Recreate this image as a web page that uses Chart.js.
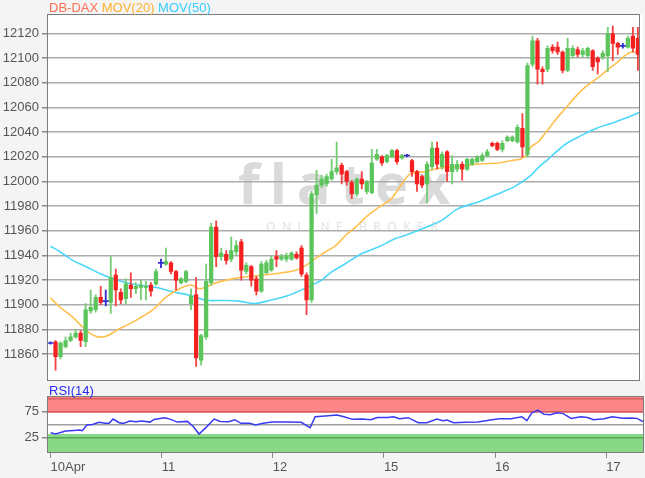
<!DOCTYPE html>
<html><head><meta charset="utf-8">
<script src="https://cdn.jsdelivr.net/npm/chart.js@4.4.1/dist/chart.umd.min.js"></script>
<style>
body{margin:0;background:#f4f4f4;}
#wrap{position:relative;width:645px;height:478px;overflow:hidden;font-family:"Liberation Sans",Arial,sans-serif;}
#plotbg{position:absolute;left:48px;top:15px;width:595px;height:365px;background:#fff;}
#wm1{position:absolute;left:238px;top:154px;font-family:"Open Sans",sans-serif;font-weight:700;font-size:56px;line-height:56px;letter-spacing:10px;color:#dadada;white-space:nowrap;}
#wm2{position:absolute;left:266px;top:221px;font-family:"Open Sans",sans-serif;font-size:12px;line-height:12px;letter-spacing:6.6px;color:#e2e2e2;white-space:nowrap;}
canvas{position:absolute;left:0;}
#main{top:0;}
#rsi{top:383px;}
#legend{position:absolute;left:49px;top:1px;font-size:13px;line-height:14px;white-space:nowrap;}
#rsilabel{position:absolute;left:49px;top:384px;font-size:13px;line-height:14px;color:#2a2aee;}
</style></head><body>
<div id="wrap">
  <div id="plotbg"></div>
  <div id="wm1">flatex</div>
  <div id="wm2">ONLINE BROKER</div>
  <canvas id="main" width="645" height="392"></canvas>
  <canvas id="rsi" width="645" height="95"></canvas>
  <div id="legend"><span style="color:#ff7152">DB-DAX</span> <span style="color:#ffb02e">MOV(20)</span> <span style="color:#36cdfc">MOV(50)</span></div>
  <div id="rsilabel">RSI(14)</div>
</div>
<script>
// ---- data ----
const dayLabels = ["10Apr", "11", "12", "15", "16", "17"];
const dayStarts = [0, 22, 44, 66, 88, 110];
const priceTicks = [11860, 11880, 11900, 11920, 11940, 11960, 11980, 12000, 12020, 12040, 12060, 12080, 12100, 12120];
const rsiTicks = [0, 25, 50, 75, 100];
const rsiTickLabels = [25, 75];

const openP = [11869,11870,11858,11866,11871,11874,11877,11870,11895,11896,11906,11903,11902,11924,11910,11905,11916,11913,11914,11914,11916,11917,
11934,11933,11934,11927,11918,11919,11901,11908,11855,11874,11918,11963,11939,11941,11937,11943,11951,11927,11931,11921,11911,11926,
11928,11939,11937,11937,11937,11941,11946,11924,11904,11989,11997,11998,12002,12008,12013,12008,11999,11990,12002,11992,11991,12018,
12020,12016,12020,12025,12019,12021,12017,12008,12004,11998,12012,12027,12012,12024,12008,12010,12014,12010,12014,12016,12017,12021,
12031,12031,12026,12033,12033,12032,12043,12022,12095,12114,12091,12091,12109,12109,12105,12090,12102,12107,12103,12102,12106,12100,
12101,12102,12120,12112,12110,12109,12118,12116];
const closeP = [11869,11858,11869,11871,11874,11877,11871,11896,11898,11906,11902,11903,11922,11912,11904,11917,11913,11915,11916,11915,11911,11927,
11934,11935,11927,11920,11921,11927,11907,11857,11875,11919,11963,11939,11942,11936,11944,11948,11928,11932,11920,11911,11933,11934,
11937,11937,11939,11940,11942,11938,11925,11904,11990,11997,12002,12004,12008,12011,12006,12000,11990,12002,11998,12000,12015,12022,
12015,12021,12025,12016,12021,12021,12008,11998,11997,12014,12027,12014,12022,12008,12014,12014,12010,12018,12018,12020,12021,12024,
12029,12026,12031,12036,12036,12044,12028,12094,12114,12091,12089,12108,12106,12105,12090,12108,12108,12103,12106,12108,12093,12097,
12104,12120,12112,12109,12110,12116,12108,12103];
const highP = [11870,11871,11870,11874,11877,11880,11879,11901,11912,11908,11915,11912,11939,11929,11913,11921,11926,11918,11920,11919,11918,11929,
11937,11946,11935,11928,11922,11928,11913,11922,11876,11933,11966,11968,11946,11944,11955,11952,11953,11934,11932,11923,11935,11936,
11940,11944,11941,11942,11943,11943,11948,11926,11992,12009,12005,12006,12018,12032,12015,12009,12001,12003,12008,12001,12026,12026,
12021,12022,12026,12026,12022,12022,12018,12009,12005,12016,12032,12032,12024,12025,12021,12017,12016,12019,12019,12021,12023,12026,
12032,12032,12033,12037,12037,12046,12055,12096,12118,12116,12093,12110,12111,12113,12106,12116,12110,12109,12108,12109,12107,12101,
12106,12125,12126,12113,12112,12118,12125,12125];
const lowP = [11868,11847,11856,11865,11870,11873,11866,11866,11893,11894,11900,11899,11893,11899,11901,11901,11906,11909,11904,11904,11907,11916,
11930,11932,11925,11912,11917,11918,11896,11850,11851,11872,11916,11931,11936,11933,11935,11940,11920,11925,11915,11908,11910,11925,
11927,11931,11936,11935,11936,11937,11923,11892,11902,11974,11995,11996,12001,12006,11998,11997,11986,11988,11994,11990,11990,12017,
12013,12015,12019,12014,12018,12020,12004,11992,11995,11983,12010,12010,12010,12000,11998,12008,12001,12009,12013,12015,12016,12020,
12028,12025,12024,12032,12032,12031,12020,12020,12093,12079,12079,12089,12104,12103,12088,12089,12100,12101,12101,12100,12090,12087,
12099,12089,12098,12103,12108,12108,12105,12090];

const ma20X = [0,1.9,4.4,6.4,7.8,9.4,11.2,13.2,15.2,17.7,20.3,23.1,25.7,28,29.6,31,33,35,37.6,42.1,45.5,48.9,50.9,52.9,54.8,56.8,58.8,60.8,62.8,65.4,67.9,69.3,71.6,74.7,77.3,79.8,82.6,85.8,89.2,91.8,93.5,94.7,95.7,97.1,98.5,100.5,102.5,104.5,106.5,109,111,113,114.4,115.6,117,117.3];
const ma20Y = [11905.6,11898,11890,11882,11877,11874,11874.6,11879.4,11883.5,11889,11895.6,11906.4,11913,11916,11913,11914.5,11917.8,11920,11922,11924,11925.6,11928,11932,11937.8,11943,11948,11956.4,11963,11971,11979,11986,11994,12006,12008,12010.7,12011.7,12013,12014.4,12015,12017,12018,12021,12028,12032,12039,12049.5,12059,12068.4,12076.5,12084,12090.7,12097,12102,12104.8,12104,12101];
const ma50X = [0,1.9,4.4,7.2,9.8,12.4,15.2,17.7,21.1,24.3,27.7,31,34.2,37.6,40.6,43.8,47.5,50.8,54,56,58.8,62,65.4,68.7,71.1,75.3,77.9,81.2,85.2,89.2,92.5,95.7,97.1,99.1,102.5,105.6,109,112.4,115.6,117.3];
const ma50Y = [11947.5,11943,11936,11930.7,11925.4,11921.3,11917.8,11916,11914,11910.5,11907.8,11903.7,11903.5,11903,11901,11903.7,11907.8,11913.5,11920,11926.7,11933.5,11941.6,11947,11953.7,11957,11963.7,11968.5,11978,11983.4,11990,11996,12005,12011,12018,12030,12037,12043.5,12048,12053,12056];
const rsiX = [0,1,3,4.6,5.8,6.3,7.2,8.3,9.6,10.8,11.6,12.4,13.6,14.4,15.7,16.9,18.1,19.7,20.5,22.6,23.8,25.1,27.1,28.3,29.4,30.8,32.4,33.6,35.3,36.5,37.7,39.4,40.6,42.1,43.8,47.1,49.6,51.4,52.4,54.4,56.7,58.1,59.8,61.8,63.4,64.7,66.7,67.9,69.1,70.8,72.8,74.5,76.5,77.7,78.5,79.8,82.2,84.6,87.1,88.8,91.2,93.3,94.3,95.3,96.5,97.7,99,100.2,101.4,103.1,105,106.3,107.5,109.6,111.2,113.3,114.9,116.1,117.3];
const rsiY = [34.6,32,37.8,39,39.7,38.5,49.4,50.6,54.5,52.6,52.6,60.9,53.8,52.6,57,55.8,57,55,60.2,63.5,60.3,55,56.4,46.2,32,44.9,60.9,56.4,55.8,59.6,52.6,52.6,49.4,52.6,55,55,54.5,44.3,65.4,66.7,68.6,65.4,60.3,60.9,59.6,64,64,65.4,61.5,63.5,53.8,53.8,60.9,57.7,59,53.8,54.5,55,59,61.5,61.5,65.4,57.7,73,78.2,69.9,69.2,73,71.8,62.2,65.4,64,59.6,61.5,65.4,62.2,62.8,62.2,55.8];

// ---- styling ----
const UP = '#5bc55b', DOWN = '#f42020', FLAT = '#3030d0';
const UP_WICK = '#76cd76', DOWN_WICK = '#f44444';
const FONT = {family: '"Liberation Sans", Arial, sans-serif', size: 13};
const idx = closeP.map((_, i) => i);
const bodyIdx = idx.filter(i => closeP[i] !== openP[i]);
const dojiIdx = idx.filter(i => closeP[i] === openP[i]);
const bodyColor = i => closeP[i] > openP[i] ? UP : DOWN;
const wickColor = i => closeP[i] > openP[i] ? UP_WICK : (closeP[i] < openP[i] ? DOWN_WICK : FLAT);

const frame = {
  id: 'frame',
  afterDraw(chart) {
    const {ctx, chartArea: a} = chart;
    ctx.save();
    ctx.strokeStyle = '#7c7c7c';
    ctx.lineWidth = 1;
    ctx.strokeRect(Math.round(a.left) - 0.5, Math.round(a.top) - 0.5, Math.round(a.width) + 1, Math.round(a.height) + 1);
    ctx.restore();
  }
};
const bands = {
  id: 'bands',
  beforeDraw(chart) {
    const {ctx, chartArea: a, scales: {y}} = chart;
    ctx.save();
    ctx.fillStyle = '#ffffff';
    ctx.fillRect(a.left, a.top, a.width, a.height);
    const yTop = y.getPixelForValue(y.max), y73 = y.getPixelForValue(73);
    const y32 = y.getPixelForValue(32), yBot = y.getPixelForValue(y.min);
    ctx.fillStyle = '#ff8686';
    ctx.fillRect(a.left, yTop, a.width, y73 - yTop);
    ctx.fillStyle = '#88d888';
    ctx.fillRect(a.left, y32, a.width, yBot - y32);
    ctx.restore();
  }
};

new Chart(document.getElementById('main'), {
  type: 'bar',
  data: {
    datasets: [
      {type: 'line', label: 'MOV(50)', data: ma50X.map((x, k) => ({x, y: ma50Y[k]})), borderColor: '#4cd6fb', borderWidth: 1.6, pointRadius: 0, tension: 0.3, order: 5},
      {type: 'line', label: 'MOV(20)', data: ma20X.map((x, k) => ({x, y: ma20Y[k]})), borderColor: '#ffc04e', borderWidth: 1.6, pointRadius: 0, tension: 0.3, order: 4},
      {type: 'bar', label: 'wick', data: idx.map(i => ({x: i, y: [lowP[i], highP[i]]})), backgroundColor: idx.map(wickColor), barThickness: 1.2, grouped: false, order: 3},
      {type: 'bar', label: 'DB-DAX', data: bodyIdx.map(i => ({x: i, y: [openP[i], closeP[i]]})), backgroundColor: bodyIdx.map(bodyColor), barThickness: 3.6, grouped: false, order: 2},
      {type: 'line', label: 'doji', data: dojiIdx.map(i => ({x: i, y: closeP[i]})), showLine: false, pointStyle: 'line', pointRadius: 3, pointBorderWidth: 1.6, pointBorderColor: FLAT, borderColor: FLAT, order: 1}
    ]
  },
  options: {
    responsive: false, animation: false,
    layout: {padding: {top: 15, right: 2, bottom: 12, left: 0}},
    plugins: {legend: {display: false}, tooltip: {enabled: false}},
    scales: {
      x: {type: 'linear', min: -0.5, max: 117.3, bounds: 'data', offset: false, display: false},
      y: {
        type: 'linear', min: 11839, max: 12135, bounds: 'data',
        afterBuildTicks: s => { s.ticks = priceTicks.map(v => ({value: v})); },
        afterFit: s => { s.width = 48; },
        grid: {color: '#acacac', lineWidth: 1.5, tickLength: 6, tickColor: '#8a8a8a'},
        border: {display: false},
        ticks: {autoSkip: false, color: '#555', font: FONT, padding: 3, callback: v => String(v)}
      }
    }
  },
  plugins: [frame]
});

const rsiGrid = v => v === 100 || v === 75 ? '#d65e5e' : (v === 50 ? '#a0a0a0' : (v === 25 ? '#55a955' : 'rgba(0,0,0,0)'));
new Chart(document.getElementById('rsi'), {
  type: 'line',
  data: {datasets: [{label: 'RSI(14)', data: rsiX.map((x, k) => ({x, y: rsiY[k]})), borderColor: '#3a3af0', borderWidth: 1.5, pointRadius: 0, tension: 0}]},
  options: {
    responsive: false, animation: false,
    layout: {padding: {top: 14, right: 2, bottom: 0, left: 0}},
    plugins: {legend: {display: false}, tooltip: {enabled: false}},
    scales: {
      x: {
        type: 'linear', min: -0.5, max: 117.3, bounds: 'data', offset: false,
        afterBuildTicks: s => { s.ticks = dayStarts.map(v => ({value: v})); },
        afterFit: s => { s.height = 26; },
        grid: {drawOnChartArea: false, tickLength: 6, color: '#8a8a8a'},
        border: {display: false},
        ticks: {align: 'start', maxRotation: 0, autoSkip: false, padding: 2, color: '#555', font: FONT,
          callback: v => dayLabels[dayStarts.indexOf(v)]}
      },
      y: {
        type: 'linear', min: -2.5, max: 103.3, bounds: 'data',
        afterBuildTicks: s => { s.ticks = rsiTicks.map(v => ({value: v})); },
        afterFit: s => { s.width = 48; },
        grid: {color: c => rsiGrid(c.tick.value), lineWidth: 1.5, tickLength: 6,
          tickColor: c => rsiTickLabels.includes(c.tick.value) ? '#8a8a8a' : 'rgba(0,0,0,0)'},
        border: {display: false},
        ticks: {autoSkip: false, color: '#555', font: FONT, padding: 3, callback: v => rsiTickLabels.includes(v) ? String(v) : ''}
      }
    }
  },
  plugins: [bands, frame]
});
</script>
</body></html>
